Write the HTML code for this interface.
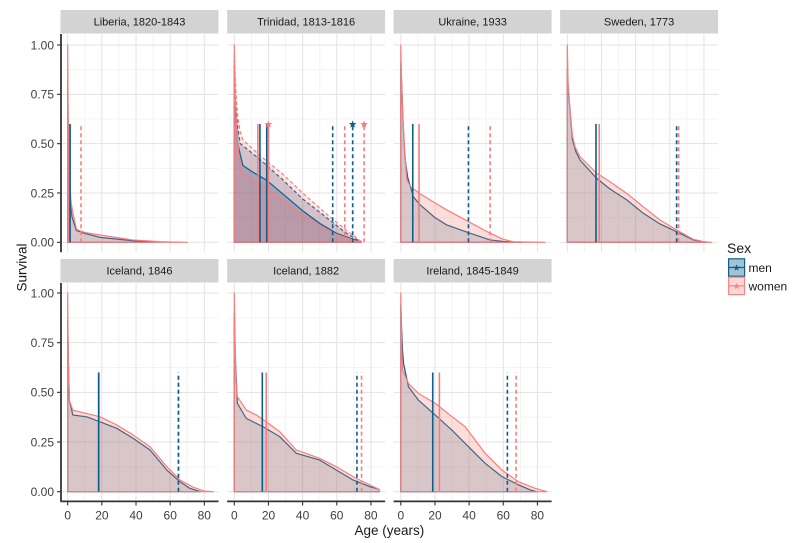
<!DOCTYPE html>
<html>
<head>
<meta charset="utf-8">
<style>
html,body{margin:0;padding:0;background:#fff;}
svg{display:block;}
text{font-family:"Liberation Sans",Arial,sans-serif;}
</style>
</head>
<body>
<svg id="plot" width="800" height="543" viewBox="0 0 800 543" xmlns="http://www.w3.org/2000/svg">
<rect x="0" y="0" width="800" height="543" fill="#ffffff"/>
<g id="grid"></g>
<g id="data"></g>
<g id="axes"></g>
<!-- strips -->
<g fill="#d3d3d3">
<rect x="60.5" y="10" width="158" height="23.5"/>
<rect x="227.1" y="10" width="158" height="23.5"/>
<rect x="393.6" y="10" width="158" height="23.5"/>
<rect x="560.1" y="10" width="158" height="23.5"/>
<rect x="60.5" y="259" width="158" height="23.5"/>
<rect x="227.1" y="259" width="158" height="23.5"/>
<rect x="393.6" y="259" width="158" height="23.5"/>
</g>
<g font-size="11" fill="#1a1a1a" text-anchor="middle">
<text x="139.5" y="25.6">Liberia, 1820-1843</text>
<text x="306.1" y="25.6">Trinidad, 1813-1816</text>
<text x="472.6" y="25.6">Ukraine, 1933</text>
<text x="639.1" y="25.6">Sweden, 1773</text>
<text x="139.5" y="274.6">Iceland, 1846</text>
<text x="306.1" y="274.6">Iceland, 1882</text>
<text x="472.6" y="274.6">Ireland, 1845-1849</text>
</g>
<!-- y tick labels -->
<g font-size="12" fill="#404040" text-anchor="end">
<text x="54" y="49.3">1.00</text>
<text x="54" y="98.6">0.75</text>
<text x="54" y="147.9">0.50</text>
<text x="54" y="197.3">0.25</text>
<text x="54" y="246.6">0.00</text>
<text x="54" y="297.3">1.00</text>
<text x="54" y="347">0.75</text>
<text x="54" y="396.7">0.50</text>
<text x="54" y="446.3">0.25</text>
<text x="54" y="496">0.00</text>
</g>
<!-- x tick labels -->
<g font-size="12" fill="#404040" text-anchor="middle">
<text x="67.7" y="519.5">0</text><text x="101.9" y="519.5">20</text><text x="136.0" y="519.5">40</text><text x="170.2" y="519.5">60</text><text x="204.3" y="519.5">80</text>
<text x="234.3" y="519.5">0</text><text x="268.5" y="519.5">20</text><text x="302.6" y="519.5">40</text><text x="336.8" y="519.5">60</text><text x="370.9" y="519.5">80</text>
<text x="400.8" y="519.5">0</text><text x="435.0" y="519.5">20</text><text x="469.1" y="519.5">40</text><text x="503.3" y="519.5">60</text><text x="537.4" y="519.5">80</text>
</g>
<!-- axis titles -->
<text x="389.4" y="535" font-size="13.5" fill="#1a1a1a" text-anchor="middle">Age (years)</text>
<text x="0" y="0" font-size="13.5" fill="#1a1a1a" text-anchor="middle" transform="translate(26.5,267.5) rotate(-90)">Survival</text>
<!-- legend -->
<text x="727" y="252.8" font-size="14" fill="#1a1a1a">Sex</text>
<rect x="728.6" y="258.8" width="16" height="17.4" fill="#a3c3d5" stroke="#0d5f8c" stroke-width="1.2"/>
<line x1="728.6" y1="267.5" x2="744.6" y2="267.5" stroke="#0d5f8c" stroke-width="1.2"/>
<rect x="728.6" y="277.2" width="16" height="17.4" fill="#fdd6d6" stroke="#f5898a" stroke-width="1.2"/>
<line x1="728.6" y1="285.9" x2="744.6" y2="285.9" stroke="#f5898a" stroke-width="1.2"/>
<g id="legstars"></g>
<text x="748.5" y="272" font-size="12" fill="#1a1a1a">men</text>
<text x="748.5" y="290.5" font-size="12" fill="#1a1a1a">women</text>
</svg>
<script>
(function(){
var NS='http://www.w3.org/2000/svg';
function el(tag,attrs,parent){var e=document.createElementNS(NS,tag);for(var k in attrs)e.setAttribute(k,attrs[k]);parent.appendChild(e);return e;}
var gGrid=document.getElementById('grid'),gData=document.getElementById('data'),gAxes=document.getElementById('axes'),gLeg=document.getElementById('legstars');
var A0=[67.7,234.3,400.8,567.3],KX=1.708;
var ROWS=[{top:34,bot:252.2,y0:242.3,k:197.3},{top:283,bot:501.6,y0:491.7,k:198.7}];
var MEN='#0d5f8c',WOM='#f57f7f';
var MFILL='rgba(0,94,140,0.19)',WFILL='rgba(248,118,109,0.25)';
var MFILL2='rgba(20,60,120,0.22)',WFILL2='rgba(248,118,109,0.2)';
function starPts(cx,cy,r){var p=[];for(var i=0;i<10;i++){var a=-Math.PI/2+i*Math.PI/5;var rr=(i%2==0)?r:r*0.42;p.push((cx+rr*Math.cos(a)).toFixed(2)+','+(cy+rr*Math.sin(a)).toFixed(2));}return p.join(' ');}
var panels=[
{c:0,r:0,series:[
 {col:MEN,fill:MFILL,pts:[[0,0.82],[0.5,0.42],[1,0.3],[1.5,0.2],[2.5,0.13],[5,0.06],[10,0.045],[19,0.025],[38,0.008],[51,0.002],[51,0]]},
 {col:WOM,fill:WFILL,pts:[[0,1],[0.3,0.6],[1,0.35],[1.9,0.21],[3,0.15],[5.2,0.065],[10,0.05],[19,0.037],[38,0.012],[55,0.003],[70,0]]}],
 v:[{a:0.6,col:WOM},{a:1.4,col:MEN},{a:7.8,col:WOM,d:1}]},
{c:1,r:0,series:[
 {col:MEN,fill:MFILL2,d:1,pts:[[0,0.92],[0.5,0.8],[1,0.68],[2,0.58],[3.5,0.5],[5,0.49],[15,0.42],[28.5,0.316],[40,0.22],[55.8,0.113],[65,0.05],[74.3,0]]},
 {col:WOM,fill:WFILL2,d:1,pts:[[0,0.95],[0.5,0.85],[1,0.75],[2,0.64],[3.5,0.56],[5,0.52],[15,0.44],[28.5,0.345],[40,0.25],[55.8,0.13],[65,0.065],[75,0]]},
 {col:MEN,fill:MFILL2,pts:[[0,0.9],[0.5,0.7],[1,0.62],[2,0.5],[5,0.39],[10,0.36],[18.7,0.316],[30.5,0.23],[40,0.16],[50,0.096],[60,0.045],[69.6,0.015],[74,0]]},
 {col:WOM,fill:WFILL2,pts:[[0,1],[0.5,0.75],[1.5,0.55],[3,0.42],[4.7,0.35],[10,0.32],[18.7,0.274],[30,0.2],[40,0.14],[50,0.085],[60,0.04],[70,0.01],[74,0]]}],
 v:[{a:13.8,col:WOM},{a:15.0,col:MEN},{a:19.0,col:MEN},{a:20.0,col:WOM,s:1},{a:57.6,col:MEN,d:1},{a:64.7,col:WOM,d:1},{a:69.3,col:MEN,d:1,s:1},{a:76,col:WOM,d:1,s:1}]},
{c:2,r:0,series:[
 {col:MEN,fill:MFILL,pts:[[0,0.91],[0.8,0.745],[1.2,0.63],[2.4,0.434],[4,0.33],[7.4,0.23],[11.3,0.19],[20,0.125],[26.9,0.088],[39.6,0.049],[52.3,0.012],[60,0.004],[70.8,0]]},
 {col:WOM,fill:WFILL,pts:[[0,1],[0.5,0.8],[1.2,0.637],[2,0.5],[3.5,0.316],[6,0.28],[10.9,0.248],[20,0.2],[26.9,0.164],[39.6,0.105],[52.3,0.046],[60,0.015],[66,0.003],[84.5,0]]}],
 v:[{a:10.7,col:WOM},{a:7.0,col:MEN},{a:52.3,col:WOM,d:1},{a:39.6,col:MEN,d:1}]},
{c:3,r:0,series:[
 {col:MEN,fill:MFILL,pts:[[0,0.88],[0.5,0.78],[1.6,0.67],[3,0.52],[5,0.46],[7.4,0.417],[17.2,0.324],[25,0.27],[34.8,0.215],[44.5,0.147],[54.3,0.093],[64,0.054],[73.8,0.012],[81.6,0]]},
 {col:WOM,fill:WFILL,pts:[[0,1],[0.5,0.8],[1.6,0.67],[3,0.54],[4.5,0.485],[7.4,0.434],[17.2,0.35],[25,0.307],[34.8,0.248],[44.5,0.18],[54.3,0.113],[64,0.063],[73.8,0.015],[80,0.003],[84.5,0]]}],
 v:[{a:18.7,col:WOM},{a:16.8,col:MEN},{a:65.2,col:WOM,d:1},{a:64,col:MEN,d:1}]},
{c:0,r:1,series:[
 {col:MEN,fill:MFILL,pts:[[0,0.864],[0.5,0.6],[1,0.46],[3,0.386],[11.1,0.377],[18.9,0.352],[28.7,0.319],[38.4,0.268],[48.2,0.21],[58,0.109],[65.8,0.05],[71.5,0.017],[77.8,0]]},
 {col:WOM,fill:WFILL,pts:[[0,1],[0.3,0.7],[1,0.46],[3,0.41],[11.1,0.394],[18.9,0.377],[28.7,0.336],[38.4,0.285],[48.2,0.226],[58,0.126],[65.8,0.059],[73.6,0.022],[80,0.003],[85.3,0]]}],
 v:[{a:18.3,col:WOM},{a:18.1,col:MEN},{a:65.0,col:WOM,d:1},{a:64.8,col:MEN,d:1}]},
{c:1,r:1,series:[
 {col:MEN,fill:MFILL,pts:[[0,0.898],[0.5,0.7],[1.2,0.56],[1.8,0.445],[7,0.369],[16.8,0.327],[26.6,0.277],[36.3,0.193],[50,0.159],[59.7,0.109],[69.5,0.059],[79.3,0.025],[84.7,0.012],[85,0]]},
 {col:WOM,fill:WFILL,pts:[[0,1],[0.5,0.75],[1,0.562],[1.8,0.478],[7,0.411],[12.9,0.386],[18.7,0.352],[26.6,0.302],[36.3,0.21],[50,0.168],[59.7,0.126],[69.5,0.076],[79.3,0.034],[84.7,0.012],[85,0]]}],
 v:[{a:18.7,col:WOM},{a:16.4,col:MEN},{a:74.5,col:WOM,d:1},{a:71.8,col:MEN,d:1}]},
{c:2,r:1,series:[
 {col:MEN,fill:MFILL,pts:[[0,0.94],[0.5,0.814],[1,0.713],[1.6,0.646],[4.5,0.528],[10.3,0.461],[19.1,0.394],[29.9,0.31],[39.7,0.226],[49.4,0.143],[59.2,0.076],[69,0.034],[76,0.008],[79.6,0]]},
 {col:WOM,fill:WFILL,pts:[[0,1],[0.5,0.73],[1,0.612],[4.5,0.545],[10.3,0.495],[20.1,0.445],[29.9,0.378],[37.7,0.327],[49.4,0.193],[59.2,0.109],[69,0.05],[78.7,0.017],[85.5,0]]}],
 v:[{a:22.6,col:WOM},{a:18.7,col:MEN},{a:67.5,col:WOM,d:1},{a:62.4,col:MEN,d:1}]}
];
panels.forEach(function(p){
 var R=ROWS[p.r],a0=A0[p.c],L=a0-7.2,W=158;
 var X=function(a){return a0+a*KX;},Y=function(s){return R.y0-s*R.k;};
 [10,30,50,70].forEach(function(a){el('line',{x1:X(a),x2:X(a),y1:R.top,y2:R.bot,stroke:'#f3f3f3','stroke-width':1},gGrid);});
 [0.125,0.375,0.625,0.875].forEach(function(s){el('line',{x1:L,x2:L+W,y1:Y(s),y2:Y(s),stroke:'#f3f3f3','stroke-width':1},gGrid);});
 [0,20,40,60,80].forEach(function(a){el('line',{x1:X(a),x2:X(a),y1:R.top,y2:R.bot,stroke:'#e3e3e3','stroke-width':1},gGrid);});
 [0,0.25,0.5,0.75,1].forEach(function(s){el('line',{x1:L,x2:L+W,y1:Y(s),y2:Y(s),stroke:'#e3e3e3','stroke-width':1},gGrid);});
 p.series.forEach(function(sr){
  var pts=sr.pts,d='M'+X(0).toFixed(2)+','+Y(0).toFixed(2);
  pts.forEach(function(q){d+=' L'+X(q[0]).toFixed(2)+','+Y(q[1]).toFixed(2);});
  d+=' L'+X(pts[pts.length-1][0]).toFixed(2)+','+Y(0).toFixed(2)+' Z';
  var at={d:d,fill:sr.fill,stroke:sr.col,'stroke-width':1.2,'stroke-linejoin':'round'};
  if(sr.d)at['stroke-dasharray']='3.5,2.5';
  el('path',at,gData);
 });
 p.v.forEach(function(v){
  var at={x1:X(v.a),x2:X(v.a),y1:Y(0),y2:Y(0.6),stroke:v.col,'stroke-width':1.6};
  if(v.d)at['stroke-dasharray']='4,3';
  el('line',at,gData);
  if(v.s)el('polygon',{points:starPts(X(v.a),Y(0.6)+0.5,4),fill:v.col},gData);
 });
 if(p.c==0){
  el('line',{x1:61,x2:61,y1:R.top,y2:R.bot,stroke:'#333','stroke-width':1.8},gAxes);
  [0,0.25,0.5,0.75,1].forEach(function(s){el('line',{x1:57,x2:61,y1:Y(s),y2:Y(s),stroke:'#333','stroke-width':1.1},gAxes);});
 }
 if(p.r==1){
  el('line',{x1:L,x2:L+W,y1:501.4,y2:501.4,stroke:'#333','stroke-width':1.8},gAxes);
  [0,20,40,60,80].forEach(function(a){el('line',{x1:X(a),x2:X(a),y1:501.4,y2:505.5,stroke:'#333','stroke-width':1.1},gAxes);});
 }
});
el('polygon',{points:starPts(736.6,267.8,3.6),fill:MEN},gLeg);
el('polygon',{points:starPts(736.6,286.2,3.6),fill:'#f5898a'},gLeg);
})();
</script>
</body>
</html>
